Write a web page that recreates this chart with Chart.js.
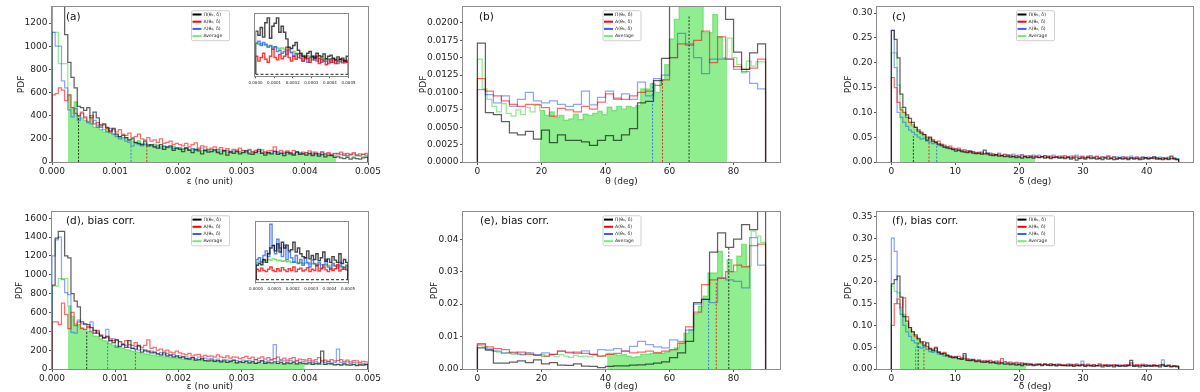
<!DOCTYPE html>
<html><head><meta charset="utf-8">
<script src="https://cdn.jsdelivr.net/npm/chart.js@4/dist/chart.umd.min.js"></script>
<style>
html,body{margin:0;padding:0;background:#fff;}
body{width:1200px;height:392px;overflow:hidden;position:relative;}
canvas{position:absolute;}
</style>
</head><body>
<script>
// ---------------- DATA ----------------
const seriesLabels = ['Π(θ₀, δ)', 'A(θ₀, δ)', 'Λ(θ₀, δ)', 'Average'];
const panelLabels = ['(a)', '(b)', '(c)', '(d), bias corr.', '(e), bias corr.', '(f), bias corr.'];
const xTitles = ['ε (no unit)', 'θ (deg)', 'δ (deg)'];

// tick values
const epsTicks = [0, 0.001, 0.002, 0.003, 0.004, 0.005];
const thetaTicks = [0, 20, 40, 60, 80];
const deltaTicks = [0, 10, 20, 30, 40];
const insetTicks = [0, 0.0001, 0.0002, 0.0003, 0.0004, 0.0005];
const aYTicks = [0, 200, 400, 600, 800, 1000, 1200];
const bYTicks = [0, 0.0025, 0.005, 0.0075, 0.01, 0.0125, 0.015, 0.0175, 0.02];
const cYTicks = [0, 0.05, 0.10, 0.15, 0.20, 0.25, 0.30];
const dYTicks = [0, 200, 400, 600, 800, 1000, 1200, 1400, 1600];
const eYTicks = [0, 0.01, 0.02, 0.03, 0.04];
const fYTicks = [0, 0.05, 0.10, 0.15, 0.20, 0.25, 0.30, 0.35];

// bin widths (x units)
const epsBin = 0.00005, thetaBin = 2.5, thetaAvgBin = 1.5, deltaBin = 0.45, insetBin = 0.0000125;

// ---- panel (a) ----
const a_black = [1800,1750,1700,1550,1100,860,730,640,480,470, 445,470,380,430,380,320,330,300,260,290,
 240,220,230,210,190,200,170,160,150,180, 140,150,130,120,150,110,130,140,100,120,
 110,90,120,100,80,110,95,70,100,85, 90,105,80,70,95,60,85,75,90,70,
 80,95,70,65,85,110,75,60,80,70, 90,65,75,55,80,70,60,85,65,70,
 60,75,55,70,50,65,45,60,55,40, 45,35,30,40,25,35,30,25,35,40];
const a_red = [580,590,640,620,530,580,470,420,400,430, 390,350,400,330,340,300,320,290,270,280,
 260,280,240,230,250,210,220,240,200,190, 210,180,190,170,200,160,170,180,150,160,
 150,140,160,130,150,165,120,140,130,110, 120,130,110,125,100,115,90,110,100,120,
 100,95,110,85,100,90,105,80,95,100, 130,90,100,85,95,80,100,90,75,85,
 80,95,70,85,75,90,70,80,65,75, 70,85,60,75,65,80,60,70,65,75];
const a_blue = [1120,1000,1000,700,640,450,390,460,360,420, 380,340,330,360,300,310,280,260,290,240,
 220,200,210,180,170,140,160,150,140,150, 150,140,130,145,120,135,125,130,115,120,
 120,110,125,105,115,100,110,120,95,105, 110,100,90,105,95,100,85,95,105,90,
 95,85,100,90,80,95,85,90,75,85, 95,80,85,75,90,80,70,85,80,75,
 80,70,85,75,65,80,70,75,60,70, 75,65,70,55,65,70,60,55,65,60];
const a_avg = [1120,1120,850,850,850,580,470,520,400,380, 360,340,370,300,320,280,260,290,250,240,
 230,220,200,210,190,180,170,185,160,165, 150,145,155,140,135,140,130,125,135,120,
 125,115,120,110,118,105,112,100,108,98, 102,95,100,90,96,88,92,85,90,82,
 86,80,84,78,82,75,80,72,78,70, 74,78,70,72,68,74,66,70,64,68,
 65,62,66,60,63,58,62,56,60,55, 58,52,56,50,54,48,52,50,46,50];
const a_fillBins = [5, 90];
const a_medX = [0.00042, 0.0015, 0.00125];
const a_medH = [400, 150, 135];

// inset of (a)
const ia_black = [72,65,78,62,86,94,60,80,85,94, 70,80,70,59,45,43,48,53,40,35, 30,28,35,38,30,27,35,31,29,34, 26,30,32,27,24,29,25,27,22,30];
const ia_red = [30,22,28,35,25,20,30,42,28,24, 33,26,30,45,28,22,30,25,34,27, 22,30,26,20,28,24,30,18,25,22, 16,24,20,26,18,22,25,19,23,20];
const ia_blue = [52,55,48,53,50,45,48,42,46,38, 40,35,38,33,42,36,30,34,28,32, 22,26,20,28,24,30,22,26,20,24, 22,18,25,20,23,18,21,24,19,22];
const ia_avg = [52,50,51,49,48,47,47,45,46,44, 43,44,42,40,39,37,38,35,34,34, 32,31,31,29,30,28,28,27,28,26, 26,25,26,24,25,23,24,23,22,23];

// ---- panel (b) ----
const b_black = [0.0171,0.0071,0.0068,0.0058,0.0042,0.0039,0.0044,0.0033, 0.0046,0.0028,0.0039,0.0031,0.0031,0.0029,0.0024,0.0031,
 0.0038,0.0031,0.0039,0.0048,0.0085,0.0087,0.0117,0.0149, 0.0260,0.0300,0.0310,0.0290,0.0280,0.0260,0.0240,0.0205,
 0.0158,0.0133,0.0157,0.0170];
const b_red = [0.0120,0.0102,0.0095,0.0088,0.0083,0.0080,0.0083,0.0082, 0.0078,0.0066,0.0077,0.0075,0.0072,0.0080,0.0076,0.0086,
 0.0098,0.0092,0.0090,0.0095,0.0100,0.0102,0.0110,0.0118, 0.0150,0.0170,0.0168,0.0175,0.0188,0.0143,0.0180,0.0148,
 0.0137,0.0133,0.0135,0.0148];
const b_blue = [0.0104,0.0097,0.0085,0.0095,0.0080,0.0090,0.0100,0.0088, 0.0085,0.0088,0.0083,0.0080,0.0083,0.0102,0.0082,0.0093,
 0.0102,0.0090,0.0098,0.0090,0.0115,0.0095,0.0120,0.0125, 0.0150,0.0185,0.0170,0.0150,0.0127,0.0148,0.0148,0.0148,
 0.0133,0.0130,0.0113,0.0105];
const b_avg = [0.0148,0.0105,0.0090,0.0080,0.0072,0.0084,0.0070,0.0066,0.0075,0.0068,0.0078,0.0072,0.0083,
 0.0074,0.0067,0.0072,0.0064,0.0067,0.0060,0.0062,0.0069,0.0061,0.0069,0.0067,0.0070,0.0073,
 0.0068,0.0079,0.0074,0.0080,0.0076,0.0080,0.0078,0.0081,0.0105,
 0.0105,0.0113,0.0100,0.0118,0.0140,0.0177,0.0205,0.0240,
 0.0228,0.0240,0.0235,0.0225,0.0186,0.0186,0.0212,0.0180,0.0150,
 0.0178,0.0150,0.0140,0.0128,0.0145,0.0138,0.0144,0.0144];
const b_fillBins = [13, 52];
const b_medX = [66.1, 57.8, 54.7];
const b_medH = [0.0210, 0.0118, 0.0113];

// ---- panel (c) ----
const c_black = [0.265,0.247,0.210,0.137,0.110,0.095,0.088,0.080,0.070,0.062, 0.058,0.055,0.044,0.050,0.042,0.040,0.036,0.034,0.030,0.028,
 0.027,0.025,0.022,0.024,0.021,0.020,0.019,0.022,0.018,0.017, 0.018,0.016,0.024,0.017,0.014,0.013,0.015,0.012,0.013,0.011,
 0.012,0.010,0.011,0.009,0.010,0.008,0.011,0.009,0.010,0.008, 0.010,0.009,0.011,0.008,0.010,0.007,0.009,0.010,0.008,0.009,
 0.007,0.009,0.006,0.008,0.004,0.007,0.008,0.006,0.009,0.007, 0.008,0.006,0.007,0.005,0.008,0.006,0.007,0.005,0.006,0.008,
 0.006,0.007,0.005,0.008,0.006,0.007,0.005,0.006,0.009,0.007, 0.008,0.010,0.006,0.007,0.005,0.008,0.006,0.012,0.007,0.005];
const c_red = [0.170,0.150,0.120,0.105,0.100,0.090,0.080,0.075,0.070,0.065, 0.060,0.055,0.050,0.048,0.045,0.040,0.042,0.036,0.034,0.030,
 0.032,0.028,0.026,0.028,0.024,0.022,0.023,0.020,0.021,0.019, 0.018,0.020,0.017,0.016,0.018,0.015,0.014,0.016,0.013,0.015,
 0.013,0.014,0.012,0.013,0.011,0.014,0.012,0.010,0.013,0.011, 0.012,0.010,0.011,0.013,0.009,0.012,0.010,0.011,0.009,0.012,
 0.010,0.011,0.009,0.012,0.010,0.008,0.011,0.009,0.012,0.010, 0.009,0.011,0.008,0.010,0.009,0.011,0.008,0.010,0.007,0.009,
 0.008,0.010,0.007,0.009,0.008,0.010,0.007,0.009,0.008,0.006, 0.008,0.007,0.009,0.006,0.008,0.007,0.005,0.007,0.006,0.005];
const c_blue = [0.265,0.190,0.100,0.090,0.080,0.072,0.064,0.060,0.055,0.050, 0.046,0.048,0.042,0.040,0.037,0.038,0.034,0.032,0.030,0.031,
 0.028,0.026,0.027,0.024,0.023,0.025,0.021,0.022,0.020,0.019, 0.020,0.018,0.017,0.019,0.016,0.017,0.015,0.018,0.014,0.016,
 0.015,0.013,0.016,0.012,0.014,0.015,0.012,0.013,0.011,0.014, 0.012,0.014,0.011,0.013,0.012,0.010,0.014,0.011,0.012,0.010,
 0.013,0.011,0.012,0.010,0.014,0.011,0.012,0.009,0.011,0.013, 0.010,0.012,0.009,0.011,0.010,0.013,0.009,0.011,0.010,0.008,
 0.011,0.009,0.010,0.012,0.008,0.010,0.009,0.011,0.008,0.010, 0.009,0.011,0.008,0.010,0.009,0.007,0.010,0.008,0.009,0.007];
const c_avg = [0.220,0.220,0.155,0.110,0.100,0.090,0.080,0.072,0.066,0.060, 0.056,0.052,0.048,0.046,0.042,0.040,0.037,0.035,0.032,0.030,
 0.029,0.027,0.025,0.024,0.023,0.021,0.020,0.020,0.018,0.017, 0.017,0.016,0.016,0.015,0.014,0.014,0.013,0.013,0.012,0.012,
 0.011,0.012,0.011,0.010,0.011,0.010,0.010,0.009,0.010,0.009, 0.010,0.009,0.010,0.009,0.011,0.009,0.010,0.009,0.010,0.008,
 0.009,0.010,0.008,0.009,0.010,0.008,0.009,0.008,0.010,0.009, 0.009,0.008,0.009,0.008,0.009,0.010,0.008,0.009,0.007,0.008,
 0.008,0.009,0.007,0.008,0.009,0.008,0.007,0.009,0.008,0.007, 0.008,0.007,0.008,0.007,0.008,0.006,0.008,0.007,0.006,0.007];
const c_fillBins = [3, 50];
const c_medX = [3.45, 5.9, 7.1];
const c_medH = [0.052, 0.042, 0.038];

// ---- panel (d) ----
const d_black = [890,1390,1460,1460,1200,1180,800,720,660,500, 480,470,440,410,380,350,330,340,300,280,
 310,240,260,230,300,220,210,250,180,200, 190,170,180,160,150,170,140,150,130,140,
 120,130,110,105,120,95,100,110,90,85, 95,80,90,75,85,70,80,90,65,75,
 70,80,65,75,60,70,85,60,70,65, 75,60,70,55,65,60,70,55,65,60,
 55,65,50,60,55,190,50,60,55,45, 50,40,55,45,40,50,35,45,40,50];
const d_red = [500,500,470,700,580,430,600,460,500,430, 420,450,400,380,410,360,330,350,320,300,
 310,290,270,300,260,250,280,240,230,250, 310,220,230,200,210,190,200,180,170,190,
 170,160,150,165,140,150,155,130,145,135, 140,125,150,130,120,140,115,130,125,110,
 120,135,110,125,100,115,130,105,120,100, 110,125,100,115,95,110,120,90,105,100,
 95,110,85,100,120,90,95,80,100,85, 90,100,80,95,75,90,85,70,80,75];
const d_blue = [1200,1370,1400,950,810,790,390,380,520,480, 470,440,500,380,400,360,330,420,300,320,
 230,290,260,250,230,220,240,200,210,190, 180,190,170,160,175,150,165,140,155,130,
 140,125,130,115,120,110,125,100,115,105, 110,95,105,90,100,95,85,100,90,80,
 95,85,90,80,100,85,90,75,85,95, 260,80,90,85,75,90,80,85,70,80,
 75,85,70,80,65,75,70,80,65,70, 210,70,65,75,60,70,65,55,60,50];
const d_avg = [880,880,960,960,960,670,560,480,470,440, 420,400,385,350,345,320,300,295,270,250,
 245,228,222,205,203,188,182,176,163,161, 158,148,147,138,137,129,130,121,119,114,
 113,106,107,99,99,94,93,89,88,84, 84,79,80,75,76,72,73,69,70,67,
 68,65,66,63,64,61,62,59,60,58, 59,56,57,55,56,53,54,52,53,51,
 52,50,51,49,50,48,49,47,48,46, 47,45,46,44,45,43,44,42,43,41];
const d_fillBins = [5, 80];
const d_medX = [0.00055, 0.00132, 0.00088];
const d_medH = [400, 205, 290];

// inset of (d)
const id_black = [25,28,26,35,30,45,55,59,50,62, 48,65,55,60,50,52,65,48,55,45, 40,38,50,36,42,35,45,33,38,48, 32,36,30,40,34,30,45,28,35,30];
const id_red = [18,15,20,16,14,18,22,16,14,19, 15,21,17,14,19,16,22,14,18,20, 15,17,21,14,18,16,25,15,19,22, 17,14,20,16,19,26,15,18,21,17];
const id_blue = [35,38,30,42,50,40,96,60,45,70, 55,40,60,35,48,38,30,42,28,35, 25,38,30,22,34,28,24,30,20,26, 35,22,18,28,24,20,30,22,18,25];
const id_avg = [30,32,31,34,33,35,34,36,35,33, 34,32,33,31,32,30,31,30,29,30, 28,29,28,27,28,27,26,27,26,25, 26,25,24,25,24,23,24,23,22,23];

// ---- panel (e) ----
const e_black = [0.0065,0.0058,0.0018,0.0018,0.0021,0.0025,0.0020,0.0028, 0.0016,0.0020,0.0012,0.0011,0.0016,0.0009,0.0008,0.0004,
 0.0008,0.0010,0.0010,0.0012,0.0013,0.0015,0.0018,0.0022, 0.0035,0.0050,0.0085,0.0205,0.0215,0.0360,0.0420,0.0375,
 0.0400,0.0445,0.0430,0.0600];
const e_red = [0.0077,0.0068,0.0063,0.0060,0.0050,0.0052,0.0045,0.0042, 0.0040,0.0045,0.0055,0.0050,0.0052,0.0048,0.0045,0.0040,
 0.0045,0.0048,0.0055,0.0050,0.0052,0.0055,0.0050,0.0055, 0.0060,0.0080,0.0130,0.0175,0.0260,0.0275,0.0280,0.0300,
 0.0320,0.0315,0.0380,0.0385];
const e_blue = [0.0078,0.0062,0.0055,0.0050,0.0052,0.0045,0.0050,0.0044, 0.0050,0.0045,0.0055,0.0052,0.0048,0.0056,0.0045,0.0060,
 0.0058,0.0063,0.0055,0.0070,0.0085,0.0075,0.0068,0.0065, 0.0090,0.0085,0.0120,0.0200,0.0215,0.0205,0.0280,0.0275,
 0.0270,0.0250,0.0405,0.0320];
const e_avg = [0.0072,0.0070,0.0060,0.0055,0.0052,0.0048,0.0050,0.0045,0.0048,0.0043,0.0050,0.0046,0.0042,0.0045,
 0.0040,0.0042,0.0038,0.0044,0.0040,0.0036,0.0042,0.0038,0.0040,0.0037,0.0042,0.0039,0.0041,
 0.0048,0.0045,0.0042,0.0044,0.0040,0.0036,0.0038,0.0045,0.0046,0.0048,0.0050,0.0049,
 0.0052,0.0058,0.0065,0.0080,
 0.0110,0.0122,0.0171,0.0194,0.0225,0.0296,0.0296,0.0363,0.0280,0.0337,0.0300,0.0348,0.0384,0.0317,
 0.0425,0.0410,0.0390];
const e_fillBins = [27, 57];
const e_medX = [78.5, 74.6, 72.2];
const e_medH = [0.0375, 0.0268, 0.0215];

// ---- panel (f) ----
const f_black = [0.195,0.205,0.213,0.165,0.120,0.110,0.095,0.085,0.078,0.070, 0.062,0.055,0.060,0.046,0.042,0.048,0.038,0.034,0.036,0.030,
 0.028,0.026,0.027,0.024,0.022,0.035,0.020,0.019,0.021,0.017, 0.018,0.016,0.015,0.017,0.014,0.015,0.013,0.012,0.014,0.011,
 0.012,0.010,0.011,0.009,0.010,0.008,0.011,0.009,0.010,0.008, 0.009,0.010,0.008,0.011,0.009,0.008,0.010,0.007,0.009,0.008,
 0.008,0.007,0.009,0.006,0.008,0.007,0.009,0.006,0.008,0.007, 0.006,0.008,0.007,0.005,0.008,0.006,0.007,0.005,0.008,0.006,
 0.007,0.006,0.008,0.020,0.006,0.007,0.005,0.008,0.006,0.007, 0.006,0.008,0.007,0.005,0.010,0.006,0.007,0.005,0.006,0.005];
const f_red = [0.100,0.150,0.160,0.140,0.163,0.120,0.095,0.085,0.075,0.068, 0.060,0.062,0.052,0.048,0.045,0.050,0.040,0.036,0.038,0.032,
 0.030,0.028,0.026,0.029,0.025,0.023,0.024,0.021,0.022,0.020, 0.021,0.018,0.019,0.017,0.020,0.016,0.018,0.015,0.024,0.017,
 0.014,0.016,0.013,0.015,0.012,0.014,0.011,0.013,0.012,0.010, 0.011,0.012,0.010,0.011,0.009,0.012,0.010,0.009,0.011,0.010,
 0.009,0.011,0.008,0.010,0.012,0.009,0.010,0.008,0.011,0.009, 0.010,0.008,0.011,0.009,0.010,0.008,0.009,0.010,0.008,0.009,
 0.008,0.010,0.009,0.014,0.008,0.010,0.009,0.011,0.008,0.009, 0.008,0.010,0.007,0.009,0.008,0.007,0.009,0.006,0.008,0.006];
const f_blue = [0.300,0.270,0.150,0.125,0.100,0.085,0.075,0.065,0.060,0.050, 0.048,0.052,0.045,0.040,0.038,0.042,0.034,0.036,0.030,0.032,
 0.028,0.026,0.029,0.024,0.025,0.030,0.021,0.022,0.020,0.019, 0.020,0.018,0.017,0.019,0.016,0.017,0.015,0.018,0.014,0.016,
 0.015,0.013,0.014,0.012,0.014,0.012,0.013,0.011,0.012,0.010, 0.011,0.012,0.010,0.011,0.010,0.012,0.009,0.011,0.010,0.009,
 0.010,0.009,0.011,0.009,0.010,0.009,0.018,0.010,0.009,0.008, 0.010,0.008,0.011,0.009,0.008,0.010,0.009,0.008,0.010,0.008,
 0.009,0.008,0.010,0.008,0.009,0.007,0.009,0.008,0.010,0.008, 0.009,0.007,0.008,0.009,0.021,0.007,0.009,0.006,0.008,0.007];
const f_avg = [0.190,0.178,0.175,0.136,0.125,0.105,0.090,0.080,0.072,0.066, 0.058,0.054,0.050,0.046,0.043,0.041,0.038,0.035,0.033,0.031,
 0.029,0.027,0.026,0.024,0.023,0.025,0.021,0.020,0.019,0.018, 0.018,0.017,0.016,0.016,0.015,0.014,0.014,0.015,0.013,0.012,
 0.012,0.012,0.011,0.011,0.010,0.011,0.010,0.010,0.009,0.010, 0.009,0.010,0.009,0.010,0.009,0.009,0.010,0.008,0.009,0.009,
 0.008,0.009,0.009,0.008,0.009,0.008,0.011,0.008,0.009,0.008, 0.008,0.008,0.009,0.008,0.008,0.009,0.008,0.008,0.008,0.007,
 0.008,0.008,0.008,0.010,0.007,0.008,0.008,0.009,0.007,0.008, 0.008,0.007,0.008,0.008,0.011,0.007,0.008,0.006,0.007,0.006];
const f_fillBins = [3, 47];
const f_medX = [4.2, 5.1, 3.8];
const f_medH = [0.060, 0.050, 0.050];

// ---------------- DRAWING ----------------
const FONT = "'DejaVu Sans', 'Liberation Sans', sans-serif";
const COL = {
  black: 'rgba(0,0,0,0.62)', red: 'rgba(255,0,0,0.58)', blue: 'rgba(35,85,235,0.52)', green: 'rgba(60,215,60,0.55)',
  fill: '#90ee90', lblack: '#000000', lred: '#ff0000', lblue: '#3563e9', lgreen: '#7fe57f'
};

function steps(x0, w, vals, i0 = 0, i1 = vals.length) {
  const pts = [{x: x0 + i0 * w, y: 0}];
  for (let i = i0; i < i1; i++) {
    pts.push({x: x0 + i * w, y: vals[i]});
    pts.push({x: x0 + (i + 1) * w, y: vals[i]});
  }
  pts.push({x: x0 + i1 * w, y: 0});
  return pts;
}
function vline(x, h) { return [{x: x, y: 0}, {x: x, y: h}]; }

const decor = {
  id: 'decor',
  afterDraw(chart, args, o) {
    const ctx = chart.ctx, a = chart.chartArea;
    ctx.save();
    ctx.strokeStyle = o.frameColor || '#8c8c8c';
    ctx.lineWidth = 1;
    ctx.strokeRect(Math.round(a.left) - 0.5, Math.round(a.top) - 0.5, Math.round(a.right - a.left) + 1, Math.round(a.bottom - a.top) + 1);
    if (o.label) {
      ctx.fillStyle = '#111';
      ctx.font = '10.5px ' + FONT;
      ctx.textBaseline = 'middle';
      ctx.textAlign = 'left';
      ctx.fillText(o.label, a.left + o.lx, a.top + o.ly);
    }
    if (o.legend) {
      const w = 38, h = 30;
      const x = (a.left + a.right) / 2 - w / 2, y = a.top + 3.3;
      ctx.fillStyle = 'rgba(255,255,255,0.9)';
      ctx.strokeStyle = '#d0d0d0';
      ctx.beginPath();
      ctx.roundRect(x + 0.5, y + 0.5, w, h, 1.5);
      ctx.fill(); ctx.stroke();
      const cols = [COL.lblack, COL.lred, COL.lblue, COL.lgreen];
      ctx.font = '4.6px ' + FONT;
      ctx.textBaseline = 'middle';
      for (let i = 0; i < 4; i++) {
        const yy = y + 4.3 + i * 7.2;
        ctx.strokeStyle = cols[i]; ctx.lineWidth = 2;
        ctx.beginPath(); ctx.moveTo(x + 1.5, yy); ctx.lineTo(x + 10.5, yy); ctx.stroke();
        ctx.fillStyle = '#222';
        ctx.fillText(seriesLabels[i], x + 12.5, yy);
      }
    }
    ctx.restore();
  }
};

function fmt(d) { return v => Number(v).toFixed(d); }

function makePanel(o) {
  const cv = document.createElement('canvas');
  cv.width = o.cw; cv.height = o.ch;
  cv.style.left = o.cx + 'px'; cv.style.top = o.cy + 'px';
  document.body.appendChild(cv);
  const ds = [];
  ds.push({data: steps(o.x0, o.avgW, o.avg, o.fillBins[0], o.fillBins[1]), fill: 'origin',
    backgroundColor: COL.fill, borderColor: 'rgba(0,0,0,0)', borderWidth: 0, order: 10});
  ds.push({data: steps(o.x0, o.avgW, o.avg), borderColor: COL.green, fill: false, order: 5});
  ds.push({data: steps(o.x0, o.w, o.blue), borderColor: COL.blue, fill: false, order: 4});
  ds.push({data: steps(o.x0, o.w, o.red), borderColor: COL.red, fill: false, order: 3});
  ds.push({data: steps(o.x0, o.w, o.black), borderColor: COL.black, fill: false, order: 2});
  const mc = ['rgba(0,0,0,0.85)', 'rgba(230,0,0,0.85)', 'rgba(40,90,235,0.85)'];
  for (let i = 0; i < 3; i++) {
    ds.push({data: vline(o.medX[i], o.medH[i]), borderColor: mc[i], borderDash: [2, 1.5], borderWidth: 0.9, fill: false, order: 1});
  }
  const tickFont = {family: FONT, size: 9};
  return new Chart(cv, {
    type: 'line',
    data: {datasets: ds},
    options: {
      responsive: false, animation: false, devicePixelRatio: 1,
      layout: {padding: {left: 0, top: o.pt, right: o.pr, bottom: 0}},
      plugins: {legend: {display: false}, tooltip: {enabled: false},
        decor: {label: o.label, lx: o.lx, ly: o.ly, legend: true}},
      elements: {point: {radius: 0}, line: {tension: 0, borderWidth: 1.25}},
      scales: {
        x: {type: 'linear', min: o.xmin, max: o.xmax, bounds: 'data',
          afterBuildTicks: s => { s.ticks = o.xTicks.map(v => ({value: v})); },
          afterFit: s => { s.height = o.xh; },
          ticks: {callback: fmt(o.xDec), font: tickFont, color: '#222', padding: 1, maxRotation: 0, autoSkip: false},
          grid: {drawOnChartArea: false, tickLength: 3, color: '#555'},
          border: {display: false},
          title: {display: true, text: o.xTitle, font: tickFont, color: '#222', padding: {top: 0, bottom: o.xtpb}}},
        y: {type: 'linear', min: 0, max: o.ymax, bounds: 'data',
          afterBuildTicks: s => { s.ticks = o.yTicks.map(v => ({value: v})); },
          afterFit: s => { s.width = o.yw; },
          ticks: {callback: fmt(o.yDec), font: tickFont, color: '#222', padding: 1.5, autoSkip: false},
          grid: {drawOnChartArea: false, tickLength: 3, color: '#555'},
          border: {display: false},
          title: {display: true, text: 'PDF', font: tickFont, color: '#222', padding: {top: o.ytp, bottom: 0}}}
      }
    },
    plugins: [decor]
  });
}

function makeInset(o) {
  const cv = document.createElement('canvas');
  cv.width = o.cw; cv.height = o.ch;
  cv.style.left = o.cx + 'px'; cv.style.top = o.cy + 'px';
  document.body.appendChild(cv);
  const ds = [
    {data: steps(0, insetBin, o.avg), borderColor: 'rgba(60,215,60,0.75)', order: 5},
    {data: steps(0, insetBin, o.blue), borderColor: 'rgba(35,85,235,0.72)', order: 4},
    {data: steps(0, insetBin, o.red), borderColor: 'rgba(255,0,0,0.78)', order: 3},
    {data: steps(0, insetBin, o.black), borderColor: 'rgba(0,0,0,0.72)', order: 2},
    {data: [{x: 0, y: 0}, {x: 0.0005, y: 0}], borderColor: '#222', borderDash: [3, 2], borderWidth: 1, order: 1}
  ];
  return new Chart(cv, {
    type: 'line',
    data: {datasets: ds},
    options: {
      responsive: false, animation: false, devicePixelRatio: 1,
      layout: {padding: {left: o.pl, top: o.pt, right: o.pr, bottom: 0}},
      plugins: {legend: {display: false}, tooltip: {enabled: false}, decor: {frameColor: '#888'}},
      elements: {point: {radius: 0}, line: {tension: 0, borderWidth: 1.4, fill: false}},
      scales: {
        x: {type: 'linear', min: 0, max: 0.0005, bounds: 'data',
          afterBuildTicks: s => { s.ticks = insetTicks.map(v => ({value: v})); },
          afterFit: s => { s.height = o.xh; },
          ticks: {callback: fmt(4), font: {family: FONT, size: 4}, color: '#222', padding: o.tp, maxRotation: 0, autoSkip: false},
          grid: {drawOnChartArea: false, tickLength: 1.5, color: '#555'},
          border: {display: false}},
        y: {type: 'linear', min: -4, max: 100, display: false}
      }
    },
    plugins: [decor]
  });
}

const row1 = {cy: 0, ch: 196, pt: 5, xh: 34, xtpb: 9};
const row2 = {cy: 196, ch: 196, pt: 16, xh: 23, xtpb: 0};
const colA = {cx: 0, cw: 400, yw: 52, pr: 32, x0: 0, xmin: 0, xmax: 0.005, xTicks: epsTicks, xDec: 3, xTitle: xTitles[0], w: epsBin, avgW: epsBin};
const colB = {cx: 400, cw: 400, yw: 63, pr: 20, x0: 0, xmin: -4.5, xmax: 94.5, xTicks: thetaTicks, xDec: 0, xTitle: xTitles[1], w: thetaBin, avgW: thetaAvgBin};
const colC = {cx: 800, cw: 400, yw: 77, pr: 7, x0: 0, xmin: -2.25, xmax: 47.25, xTicks: deltaTicks, xDec: 0, xTitle: xTitles[2], w: deltaBin, avgW: deltaBin};

makePanel(Object.assign({}, row1, colA, {black: a_black, red: a_red, blue: a_blue, avg: a_avg, fillBins: a_fillBins,
  medX: a_medX, medH: a_medH, ymax: 1339, yTicks: aYTicks, yDec: 0, ytp: 16, label: panelLabels[0], lx: 14, ly: 10}));
makePanel(Object.assign({}, row1, colB, {black: b_black, red: b_red, blue: b_blue, avg: b_avg, fillBins: b_fillBins,
  medX: b_medX, medH: b_medH, ymax: 0.0223, yTicks: bYTicks, yDec: 4, ytp: 18, label: panelLabels[1], lx: 16, ly: 10}));
makePanel(Object.assign({}, row1, colC, {black: c_black, red: c_red, blue: c_blue, avg: c_avg, fillBins: c_fillBins,
  medX: c_medX, medH: c_medH, ymax: 0.3125, yTicks: cYTicks, yDec: 2, ytp: 43, label: panelLabels[2], lx: 15, ly: 10}));
makePanel(Object.assign({}, row2, colA, {black: d_black, red: d_red, blue: d_blue, avg: d_avg, fillBins: d_fillBins,
  medX: d_medX, medH: d_medH, ymax: 1667, yTicks: dYTicks, yDec: 0, ytp: 14.6, label: panelLabels[3], lx: 14, ly: 9.5}));
makePanel(Object.assign({}, row2, colB, {black: e_black, red: e_red, blue: e_blue, avg: e_avg, fillBins: e_fillBins,
  medX: e_medX, medH: e_medH, ymax: 0.0484, yTicks: eYTicks, yDec: 2, ytp: 29.6, label: panelLabels[4], lx: 17, ly: 9.5}));
makePanel(Object.assign({}, row2, colC, {black: f_black, red: f_red, blue: f_blue, avg: f_avg, fillBins: f_fillBins,
  medX: f_medX, medH: f_medH, ymax: 0.36, yTicks: fYTicks, yDec: 2, ytp: 43, label: panelLabels[5], lx: 15, ly: 9.5}));

makeInset({cx: 246, cy: 10, cw: 112, ch: 80, pl: 8.3, pt: 4.3, pr: 8, xh: 13.3, tp: 2.5,
  black: ia_black, red: ia_red, blue: ia_blue, avg: ia_avg});
makeInset({cx: 246, cy: 218, cw: 112, ch: 80, pl: 8.3, pt: 4, pr: 8, xh: 16, tp: 3,
  black: id_black, red: id_red, blue: id_blue, avg: id_avg});
</script>
</body></html>
